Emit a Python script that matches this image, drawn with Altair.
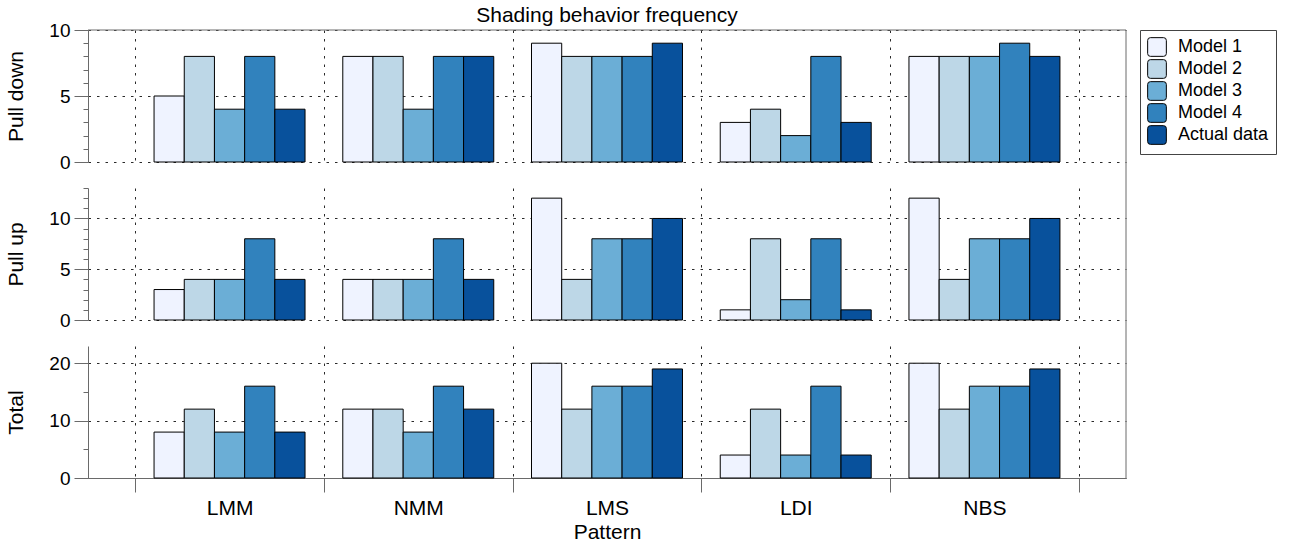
import altair as alt
import pandas as pd

# Categories and series
patterns = ["LMM", "NMM", "LMS", "LDI", "NBS"]
series = ["Model 1", "Model 2", "Model 3", "Model 4", "Actual data"]
colors = ["#eff3ff", "#bdd7e7", "#6baed6", "#3182bd", "#08519c"]

# Counts per series, one value per pattern (LMM, NMM, LMS, LDI, NBS)
pull_down = {
    "Model 1": [5, 8, 9, 3, 8],
    "Model 2": [8, 8, 8, 4, 8],
    "Model 3": [4, 4, 8, 2, 8],
    "Model 4": [8, 8, 8, 8, 9],
    "Actual data": [4, 8, 9, 3, 8],
}
pull_up = {
    "Model 1": [3, 4, 12, 1, 12],
    "Model 2": [4, 4, 4, 8, 4],
    "Model 3": [4, 4, 8, 2, 8],
    "Model 4": [8, 8, 8, 8, 8],
    "Actual data": [4, 4, 10, 1, 10],
}
total = {
    "Model 1": [8, 12, 20, 4, 20],
    "Model 2": [12, 12, 12, 12, 12],
    "Model 3": [8, 8, 16, 4, 16],
    "Model 4": [16, 16, 16, 16, 16],
    "Actual data": [8, 12, 19, 4, 19],
}

# Y-axis tick values (every tick) and labelled ticks per panel
pull_down_ticks = [0, 1, 2, 3, 4, 5, 6, 7, 8, 9, 10]
pull_up_ticks = [0, 1, 2, 3, 4, 5, 6, 7, 8, 9, 10, 11, 12, 13]
total_ticks = [0, 5, 10, 15, 20]

W = 1038
H = 132
GAP = 26
GRAY = "#6a6a6a"
GRID = "#2a2a2a"
FONT = "Liberation Sans"
DASH = [2.5, 6]

# rounded square used for the legend swatches
ROUNDED = ("M-0.7,-1H0.7Q1,-1 1,-0.7V0.7Q1,1 0.7,1H-0.7Q-1,1 -1,0.7"
           "V-0.7Q-1,-1 -0.7,-1Z")


def to_frame(table):
    rows = []
    for s in series:
        for p, v in zip(patterns, table[s]):
            rows.append({"pattern": p, "series": s, "count": v})
    return pd.DataFrame(rows)


def y_axis(title, ticks, major):
    is_major = f"datum.value % {major} === 0"
    return alt.Axis(
        title=title,
        values=ticks,
        labelExpr=f"{is_major} ? datum.label : ''",
        tickSize={"condition": {"test": is_major, "value": 14}, "value": 5},
        gridOpacity={"condition": {"test": is_major, "value": 1}, "value": 0},
        grid=True,
        gridDash=DASH,
        gridColor=GRID,
        domainColor=GRAY,
        tickColor=GRAY,
        labelFontSize=19,
        labelPadding=4,
        labelColor="black",
        titleFontSize=21,
        titleFontWeight="normal",
        titleColor="black",
        titlePadding=22,
    )


def panel(table, title, ymax, ticks, major, group_pad, bottom=False, top=False):
    df = to_frame(table)
    if bottom:
        xaxis = alt.Axis(
            title="Pattern", labelAngle=0, labelFontSize=21, labelColor="black",
            labelPadding=5, tickSize=14, tickColor=GRAY, domainColor=GRAY,
            tickBand="extent", grid=True, gridDash=DASH, gridColor=GRID,
            titleFontSize=21, titleFontWeight="normal", titleColor="black",
            titlePadding=3,
        )
    else:
        xaxis = alt.Axis(
            title=None, labels=False, ticks=False, domain=False,
            tickBand="extent", grid=True, gridDash=DASH, gridColor=GRID,
        )

    bars = alt.Chart(df).mark_bar(stroke="black", strokeWidth=1).encode(
        x=alt.X("pattern:N", sort=patterns,
                scale=alt.Scale(paddingInner=0, paddingOuter=0.25), axis=xaxis),
        xOffset=alt.XOffset("series:N", sort=series,
                            scale=alt.Scale(paddingInner=0, paddingOuter=group_pad)),
        y=alt.Y("count:Q", scale=alt.Scale(domain=[0, ymax], nice=False),
                axis=y_axis(title, ticks, major)),
        color=alt.Color(
            "series:N", sort=series,
            scale=alt.Scale(domain=series, range=colors),
            legend=alt.Legend(
                title=None, orient="right", offset=13, strokeColor="#444444",
                padding=7, labelFontSize=18, labelColor="black",
                symbolType=ROUNDED, symbolSize=350, symbolStrokeColor="black",
                symbolStrokeWidth=1, symbolOpacity=1, rowPadding=-3,
                labelOffset=11, fillColor="white",
            ),
        ),
    )

    frame = pd.DataFrame({"k": [0]})
    right = alt.Chart(frame).mark_rule(color=GRAY, strokeWidth=1).encode(
        x=alt.value(W), y=alt.value(0 if top else -GAP), y2=alt.value(H)
    )
    layers = [bars, right]
    if top:
        layers.append(
            alt.Chart(frame).mark_rule(color=GRAY, strokeWidth=1).encode(
                x=alt.value(0), x2=alt.value(W), y=alt.value(0)
            )
        )
    props = dict(width=W, height=H)
    if top:
        props["title"] = alt.TitleParams(
            "Shading behavior frequency", fontSize=21, fontWeight="normal",
            color="black", offset=-5, anchor="middle",
        )
    return alt.layer(*layers).properties(**props)


chart = (
    alt.vconcat(
        panel(pull_down, "Pull down", 10, pull_down_ticks, 5, 0.625, top=True),
        panel(pull_up, "Pull up", 13, pull_up_ticks, 5, 0.625),
        panel(total, "Total", 23, total_ticks, 10, 0.2778, bottom=True),
        spacing=GAP,
        bounds="flush",
    )
    .configure(font=FONT, padding=5)
    .configure_view(stroke="transparent", strokeWidth=0)
)

chart.save("out.html", embed_options={"renderer": "svg", "actions": False})
